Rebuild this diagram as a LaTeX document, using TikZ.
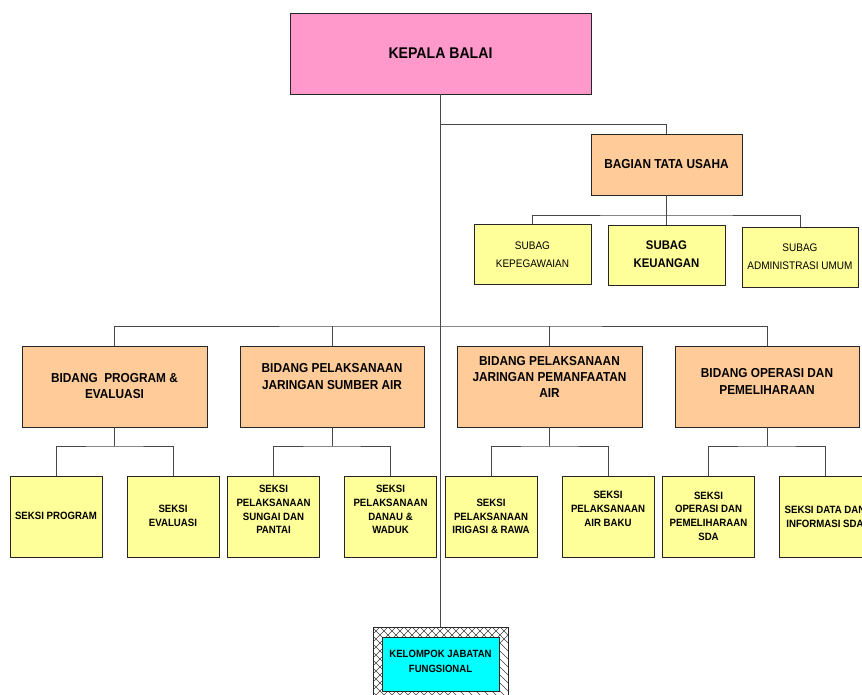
\documentclass[tikz,border=0pt]{standalone}
\usepackage{fontspec}
\usetikzlibrary{calc}
\newfontfamily\orgfont[FakeStretch=0.91]{Liberation Sans}
\definecolor{kpink}{HTML}{FF99CC}
\definecolor{kpeach}{HTML}{FFCC99}
\definecolor{kyellow}{HTML}{FFFF99}
\definecolor{kcyan}{HTML}{00FFFF}
\begin{document}
\begin{tikzpicture}[x=1pt,y=-1pt,
  box/.style={draw=black!85, line width=0.8pt, inner sep=0pt, outer sep=0pt},
  headbox/.style={box, fill=kpink, minimum width=301pt, minimum height=81pt},
  unitbox/.style={box, fill=kpeach, minimum width=185pt, minimum height=81pt},
  subbox/.style={box, fill=kyellow, minimum width=117pt, minimum height=60pt},
  seksibox/.style={box, fill=kyellow, minimum width=92pt, minimum height=81pt},
  conn/.style={draw=black!72, line width=0.9pt},
  hatch/.style={line width=0.5pt, black!75},
  lbl/.style={align=center, inner sep=0pt, text=black},
  bidfont/.style={lbl, font=\orgfont\bfseries\fontsize{13}{16.3}\selectfont},
  subfont/.style={lbl, font=\orgfont\fontsize{11}{17.7}\selectfont},
  subbold/.style={lbl, font=\orgfont\bfseries\fontsize{12.5}{17.7}\selectfont},
  seksifont/.style={lbl, font=\orgfont\bfseries\fontsize{10.6}{13.7}\selectfont}
]
\useasboundingbox (0,0) rectangle (862,695);
\clip (0,0) rectangle (862,695);
\fill[white] (0,0) rectangle (862,695);

% head and administrative section
\node[headbox] (kepala) at (440.5,53.5) {};
\node[lbl, font=\orgfont\bfseries\fontsize{15.5}{18}\selectfont] (kepalaT) at (440.5,53.5) {KEPALA BALAI};

\node[box, fill=kpeach, minimum width=151pt, minimum height=61pt] (bagian) at (666.5,164.5) {};
\node[bidfont] (bagianT) at (666.5,164.5) {BAGIAN TATA USAHA};

\node[subbox] (sub1) at (532.5,254) {};
\node[subfont] (sub1T) at (532.5,254.5) {SUBAG\\KEPEGAWAIAN};
\node[subbox] (sub2) at (666.5,255) {};
\node[subbold] (sub2T) at (666.5,254.5) {SUBAG\\KEUANGAN};
\node[subbox, minimum width=116pt] (sub3) at (800,257) {};
\node[subfont] (sub3T) at (800,256.5) {SUBAG\\ADMINISTRASI UMUM};

% divisions
\node[unitbox] (bid1) at (114.5,386.5) {};
\node[bidfont] (bid1T) at (114.5,386) {BIDANG\hspace{0.25em} PROGRAM \&\\EVALUASI};
\node[unitbox, minimum width=184pt] (bid2) at (332,386.5) {};
\node[bidfont] (bid2T) at (332,376.5) {BIDANG PELAKSANAAN\\JARINGAN SUMBER AIR};
\node[unitbox] (bid3) at (549.5,386.5) {};
\node[bidfont] (bid3T) at (549.5,377) {BIDANG PELAKSANAAN\\JARINGAN PEMANFAATAN\\AIR};
\node[unitbox, minimum width=184pt] (bid4) at (767,386.5) {};
\node[bidfont] (bid4T) at (767,381.5) {BIDANG OPERASI DAN\\PEMELIHARAAN};

% sections
\node[seksibox] (s1) at (56,516.5) {};
\node[seksifont] (s1T) at (56,516) {SEKSI PROGRAM};
\node[seksibox] (s2) at (173,516.5) {};
\node[seksifont] (s2T) at (173,516) {SEKSI\\EVALUASI};
\node[seksibox] (s3) at (273.5,516.5) {};
\node[seksifont] (s3T) at (273.5,509.5) {SEKSI\\PELAKSANAAN\\SUNGAI DAN\\PANTAI};
\node[seksibox] (s4) at (390.5,516.5) {};
\node[seksifont] (s4T) at (390.5,509.5) {SEKSI\\PELAKSANAAN\\DANAU \&\\WADUK};
\node[seksibox] (s5) at (491,516.5) {};
\node[seksifont] (s5T) at (491,516.5) {SEKSI\\PELAKSANAAN\\IRIGASI \& RAWA};
\node[seksibox] (s6) at (608,516.5) {};
\node[seksifont] (s6T) at (608,509) {SEKSI\\PELAKSANAAN\\AIR BAKU};
\node[seksibox] (s7) at (708.5,516.5) {};
\node[seksifont] (s7T) at (708.5,516) {SEKSI\\OPERASI DAN\\PEMELIHARAAN\\SDA};
\node[seksibox] (s8) at (825,516.5) {};
\node[seksifont] (s8T) at (825,516.5) {SEKSI DATA DAN\\INFORMASI SDA};

% functional group with hatched frame
\node[box, fill=white, minimum width=135pt, minimum height=80pt] (kelompok) at (440.5,667) {};
\begin{scope}
  \clip (kelompok.north west) rectangle (kelompok.south east);
  \foreach \k in {-80,-72,...,216} {
    \draw[hatch] (\k+300,627) -- ++(80,80);
    \draw[hatch] (\k+300,627) -- ++(-80,80);
  }
\end{scope}
\draw[draw=black!85, line width=0.8pt] (kelompok.north west) rectangle (kelompok.south east);
\node[box, fill=kcyan, minimum width=117pt, minimum height=54pt] (kelcyan) at (440.5,664) {};
\node[seksifont, font=\orgfont\bfseries\fontsize{10.5}{15}\selectfont] (kelT) at (440.5,661.5) {KELOMPOK JABATAN\\FUNGSIONAL};

% connectors
\coordinate (tuJ) at (440.5,124);
\coordinate (subJ) at (666.5,215);
\coordinate (bidJ) at (440.5,326);
\draw[conn] (kepala.south) -- (kelompok.north);
\draw[conn] (tuJ) -| (bagian.north);
\draw[conn] (bagian.south) -- (sub2.north);
\draw[conn] (sub1.north) |- (subJ) -| (sub3.north);
\draw[conn] (bid1.north) |- (bidJ) -| (bid4.north);
\draw[conn] (bid2.north) -- (bid2.north |- bidJ);
\draw[conn] (bid3.north) -- (bid3.north |- bidJ);

\foreach \b/\l/\r in {bid1/s1/s2, bid2/s3/s4, bid3/s5/s6, bid4/s7/s8} {
  \coordinate (\b J) at ($(\b.south)+(0,19)$);
  \draw[conn] (\b.south) -- (\b J);
  \draw[conn] (\l.north) |- (\b J) -| (\r.north);
}
\end{tikzpicture}
\end{document}
